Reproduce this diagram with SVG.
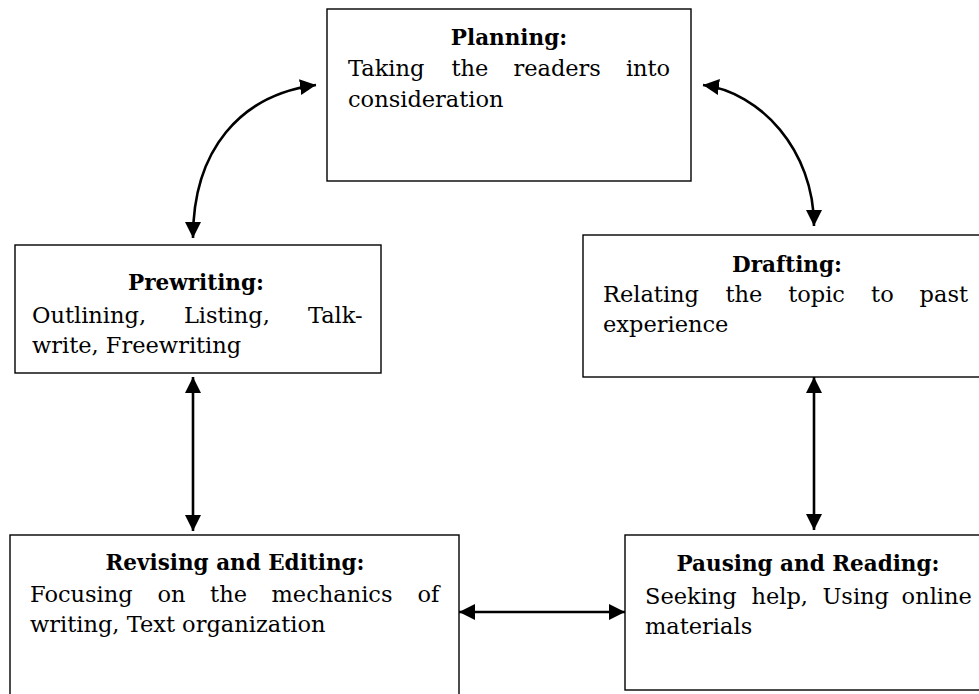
<svg xmlns="http://www.w3.org/2000/svg" width="979" height="694" viewBox="0 0 979 694">
<style>
.box{fill:#fff;stroke:#000;stroke-width:1.4}
.h{font-family:"DejaVu Serif","Liberation Serif",serif;font-weight:bold;font-size:21.5px;text-anchor:middle;fill:#000}
.t{font-family:"DejaVu Serif","Liberation Serif",serif;font-size:22.5px;fill:#000}
.c{fill:none;stroke:#000;stroke-width:2.6}
</style>
<defs>
<marker id="ah" markerUnits="userSpaceOnUse" markerWidth="16" markerHeight="16" refX="14" refY="7" orient="auto-start-reverse" viewBox="0 0 14 14">
<path d="M0,0 L14,7 L0,14 Z" fill="#000"/>
</marker>
</defs>
<rect width="979" height="694" fill="#fff"/>
<g id="planning">
<rect class="box" x="327" y="9" width="364" height="172"/>
<text class="h" x="509" y="45">Planning:</text>
<text class="t" y="76"><tspan x="348">Taking</tspan><tspan x="451.5">the</tspan><tspan x="513.4">readers</tspan><tspan x="625.9">into</tspan></text>
<text class="t" x="348" y="107">consideration</text>
</g>
<g id="prewriting">
<rect class="box" x="15" y="245" width="366" height="128"/>
<text class="h" x="196" y="290">Prewriting:</text>
<text class="t" y="323"><tspan x="32">Outlining,</tspan><tspan x="183.9">Listing,</tspan><tspan x="307.9">Talk-</tspan></text>
<text class="t" x="32" y="353">write, Freewriting</text>
</g>
<g id="drafting">
<rect class="box" x="583" y="235" width="410" height="142"/>
<text class="h" x="787" y="272">Drafting:</text>
<text class="t" y="302"><tspan x="603">Relating</tspan><tspan x="725.4">the</tspan><tspan x="788.2">topic</tspan><tspan x="871.1">to</tspan><tspan x="919.6">past</tspan></text>
<text class="t" x="603" y="332">experience</text>
</g>
<g id="revising">
<rect class="box" x="10" y="535" width="449" height="170"/>
<text class="h" x="235" y="570">Revising and Editing:</text>
<text class="t" y="602"><tspan x="30">Focusing</tspan><tspan x="157.5">on</tspan><tspan x="210.1">the</tspan><tspan x="271.5">mechanics</tspan><tspan x="417.4">of</tspan></text>
<text class="t" x="30" y="632">writing, Text organization</text>
</g>
<g id="pausing">
<rect class="box" x="625" y="535" width="368" height="155"/>
<text class="h" x="808" y="571">Pausing and Reading:</text>
<text class="t" y="604"><tspan x="645">Seeking</tspan><tspan x="751.4">help,</tspan><tspan x="822.4">Using</tspan><tspan x="901.6">online</tspan></text>
<text class="t" x="645" y="634">materials</text>
</g>
<g id="connectors">
<path class="c" d="M193,238 C193,150 240,95 316,85" marker-start="url(#ah)" marker-end="url(#ah)"/>
<path class="c" d="M703,85 C760,92 814,150 814,226" marker-start="url(#ah)" marker-end="url(#ah)"/>
<path class="c" d="M193,377 L193,531" marker-start="url(#ah)" marker-end="url(#ah)"/>
<path class="c" d="M814,377 L814,530" marker-start="url(#ah)" marker-end="url(#ah)"/>
<path class="c" d="M459,612 L625,612" marker-start="url(#ah)" marker-end="url(#ah)"/>
</g>
</svg>
